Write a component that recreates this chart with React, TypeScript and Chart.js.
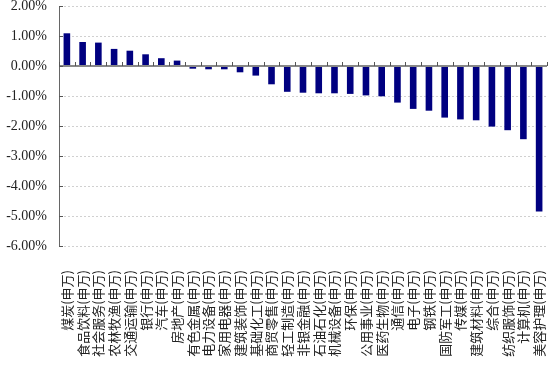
import React, { useEffect, useRef } from "react";
import { Chart, registerables } from "chart.js";

Chart.register(...registerables);

const categories = [
  "煤炭(申万)", "食品饮料(申万)", "社会服务(申万)", "农林牧渔(申万)", "交通运输(申万)",
  "银行(申万)", "汽车(申万)", "房地产(申万)", "有色金属(申万)", "电力设备(申万)",
  "家用电器(申万)", "建筑装饰(申万)", "基础化工(申万)", "商贸零售(申万)", "轻工制造(申万)",
  "非银金融(申万)", "石油石化(申万)", "机械设备(申万)", "环保(申万)", "公用事业(申万)",
  "医药生物(申万)", "通信(申万)", "电子(申万)", "钢铁(申万)", "国防军工(申万)",
  "传媒(申万)", "建筑材料(申万)", "综合(申万)", "纺织服饰(申万)", "计算机(申万)",
  "美容护理(申万)",
];

const changes = [
  1.09, 0.8, 0.78, 0.57, 0.51, 0.39, 0.26, 0.18, -0.09, -0.11,
  -0.11, -0.21, -0.32, -0.61, -0.86, -0.89, -0.91, -0.91, -0.93, -0.98,
  -1.01, -1.22, -1.43, -1.49, -1.72, -1.78, -1.81, -2.02, -2.14, -2.44,
  -4.85,
];

const yMin = -6;
const yMax = 2;
const yStep = 1;

const tickMarks = {
  id: "tickMarks",
  afterDatasetsDraw(chart: any) {
    const { ctx, chartArea } = chart;
    const x = chart.scales.x;
    const y = chart.scales.y;
    const y0 = y.getPixelForValue(0);
    ctx.save();
    ctx.strokeStyle = "#555";
    ctx.lineWidth = 1;
    ctx.beginPath();
    const n = categories.length;
    for (let i = 0; i <= n; i++) {
      const px = Math.round(x.getPixelForValue(i - 0.5)) + 0.5;
      ctx.moveTo(px, y0 - 4);
      ctx.lineTo(px, y0);
    }
    for (let v = yMin; v <= yMax; v += yStep) {
      const py = Math.round(y.getPixelForValue(v)) + 0.5;
      ctx.moveTo(chartArea.left, py);
      ctx.lineTo(chartArea.left + 4, py);
    }
    ctx.stroke();
    ctx.restore();
  },
};

export default function App() {
  const ref = useRef<HTMLCanvasElement>(null);
  useEffect(() => {
    document.body.style.margin = "0";
    const chart = new Chart(ref.current!, {
      type: "bar",
      data: {
        labels: categories,
        datasets: [
          {
            data: changes,
            backgroundColor: "#000080",
            borderColor: "#000080",
            borderWidth: 0,
            barPercentage: 0.42,
            categoryPercentage: 1,
          },
        ],
      },
      options: {
        animation: false,
        responsive: false,
        maintainAspectRatio: false,
        layout: { padding: { top: 6, right: 4, left: 0, bottom: 0 } },
        plugins: { legend: { display: false }, tooltip: { enabled: false } },
        scales: {
          x: {
            grid: { display: false, drawTicks: false },
            border: { display: false },
            ticks: {
              autoSkip: false,
              maxRotation: 90,
              minRotation: 90,
              padding: 24,
              color: "#222",
              font: { family: "'Noto Sans CJK SC'", size: 13 },
            },
            afterFit(scale: any) {
              scale.height = 131;
              scale.paddingLeft = 0;
              scale.paddingRight = 0;
            },
          },
          y: {
            min: yMin,
            max: yMax,
            ticks: {
              stepSize: yStep,
              padding: 12,
              color: "#222",
              font: { family: "'Liberation Serif'", size: 14 },
              callback: (v: any) => Number(v).toFixed(2) + "%",
            },
            grid: {
              drawTicks: false,
              color: (c: any) => (c.tick && c.tick.value === 0 ? "#888" : "#d0d0d0"),
              lineWidth: (c: any) => (c.tick && c.tick.value === 0 ? 2 : 1),
            },
            border: {
              display: true,
              color: "#666",
              width: 1,
              dash: (c: any) => (c.tick && c.tick.value === 0 ? [] : [2, 2]),
            },
            afterFit(scale: any) {
              scale.width = 59;
              scale.paddingTop = 0;
              scale.paddingBottom = 0;
            },
          },
        },
      },
      plugins: [tickMarks],
    });
    return () => chart.destroy();
  }, []);
  return <canvas ref={ref} width={551} height={377} style={{ display: "block" }} />;
}
